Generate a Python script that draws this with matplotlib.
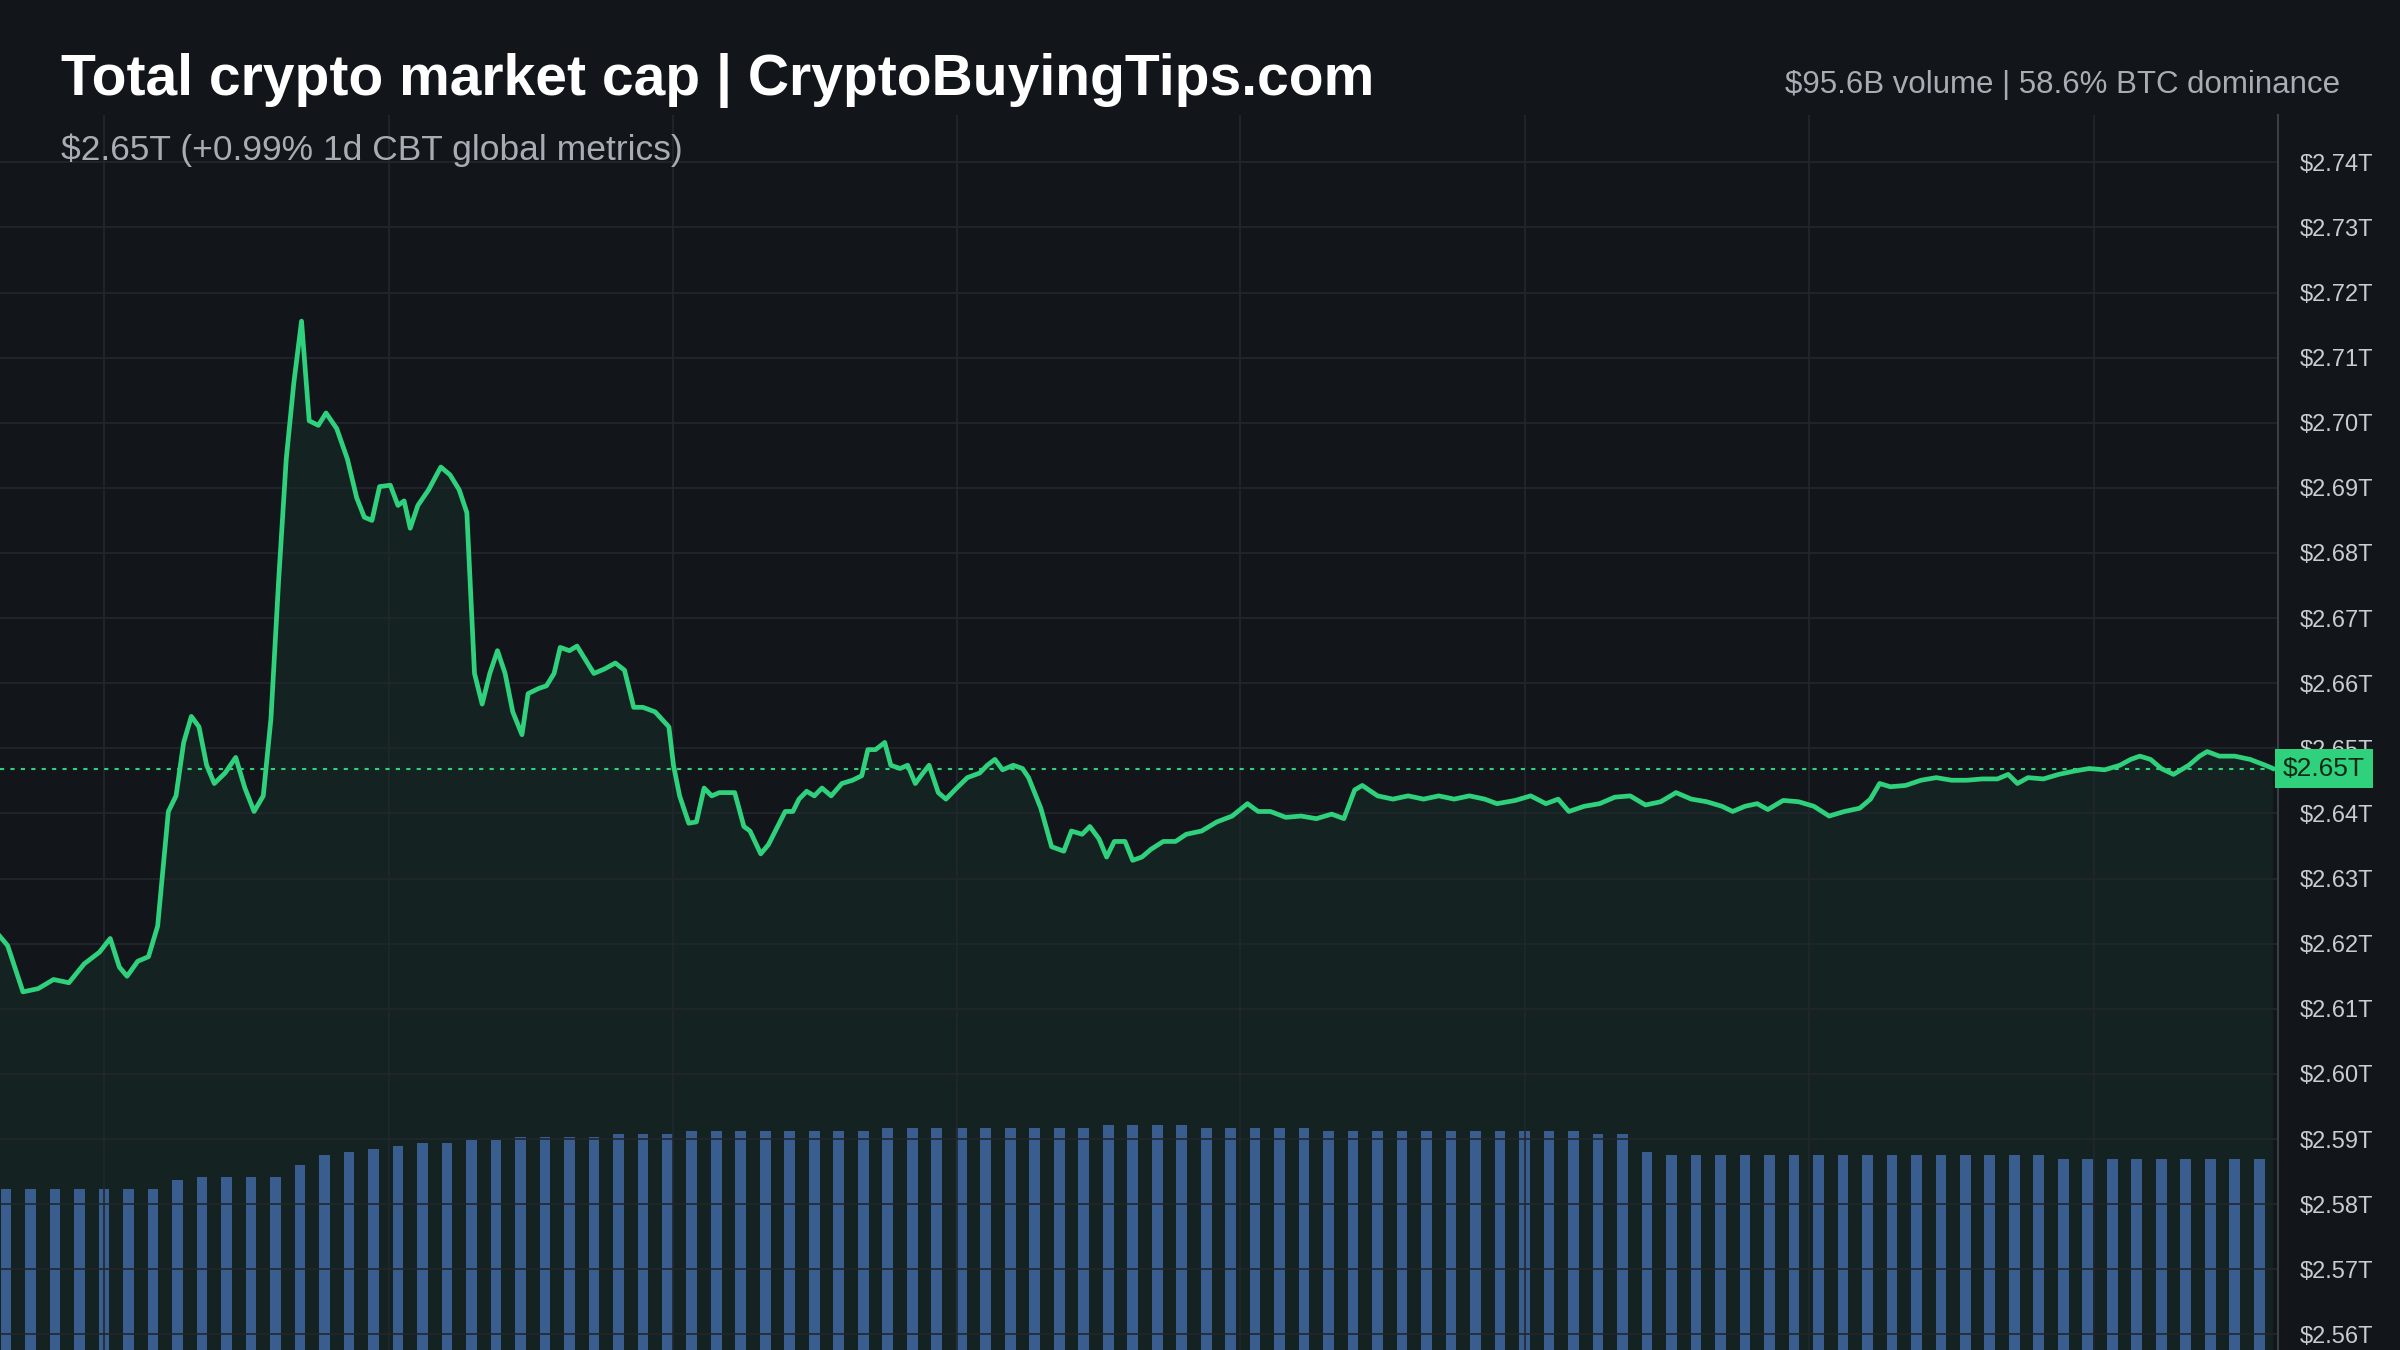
import matplotlib
matplotlib.use("Agg")
import matplotlib.pyplot as plt

plt.rcParams["font.family"] = ["Liberation Sans", "DejaVu Sans"]

BG = "#12161b"
GREEN = "#2fd17c"
GRID = "#22272e"
TXT = "#c9ccd1"

# time position (chart units, 0..1488) and total market cap in trillions USD
t = [0, 5, 15, 25, 35, 45, 55, 65, 72, 78, 83, 90, 97, 103, 110, 115, 120, 125, 130, 135,
     140, 147, 154, 160, 166, 172, 177, 182, 187, 192, 197, 202, 208, 213, 220, 227, 233, 238, 243, 248,
     255, 260, 264, 268, 273, 280, 288, 294, 300, 305, 310, 315, 320, 325, 330, 335, 341, 345, 352, 357,
     362, 366, 372, 377, 383, 388, 395, 402, 408, 414, 420, 428, 437, 440, 444, 450, 455, 460, 465, 470,
     480, 486, 490, 497, 502, 508, 513, 518, 522, 527, 532, 537, 543, 550, 557, 563, 567, 572, 578, 582,
     588, 593, 598, 603, 607, 613, 618, 625, 632, 640, 645, 650, 655, 662, 668, 672, 680, 687, 695, 700,
     707, 712, 718, 723, 728, 735, 740, 746, 752, 760, 768, 775, 785, 795, 805, 815, 822, 830, 840, 850,
     860, 870, 878, 885, 890, 900, 910, 920, 930, 940, 950, 960, 970, 978, 990, 1000, 1010, 1018, 1025, 1035,
     1045, 1055, 1065, 1075, 1085, 1095, 1105, 1115, 1125, 1132, 1140, 1148, 1155, 1165, 1175, 1185, 1195, 1205, 1215, 1222,
     1228, 1235, 1245, 1255, 1265, 1275, 1285, 1295, 1305, 1312, 1318, 1325, 1335, 1345, 1355, 1365, 1375, 1385, 1392, 1398,
     1405, 1412, 1420, 1430, 1437, 1442, 1450, 1460, 1470, 1480, 1485]
price = [2.6211, 2.6197, 2.6126, 2.6131, 2.6145, 2.6140, 2.6169, 2.6187, 2.6208, 2.6164, 2.6150, 2.6173, 2.6180, 2.6227, 2.6403, 2.6427, 2.6509, 2.6549, 2.6533, 2.6474,
         2.6446, 2.6462, 2.6486, 2.6439, 2.6403, 2.6427, 2.6545, 2.6756, 2.6944, 2.7062, 2.7156, 2.7003, 2.6996, 2.7015, 2.6991, 2.6944, 2.6885, 2.6855, 2.6850, 2.6902,
         2.6904, 2.6873, 2.6880, 2.6838, 2.6873, 2.6897, 2.6932, 2.6920, 2.6897, 2.6862, 2.6615, 2.6568, 2.6615, 2.6650, 2.6615, 2.6556, 2.6521, 2.6584, 2.6592, 2.6596,
         2.6615, 2.6655, 2.6650, 2.6657, 2.6634, 2.6615, 2.6622, 2.6631, 2.6620, 2.6563, 2.6563, 2.6556, 2.6533, 2.6474, 2.6427, 2.6385, 2.6387, 2.6439, 2.6427, 2.6432,
         2.6432, 2.6380, 2.6373, 2.6338, 2.6352, 2.6380, 2.6403, 2.6403, 2.6422, 2.6434, 2.6427, 2.6439, 2.6427, 2.6446, 2.6451, 2.6458, 2.6498, 2.6498, 2.6509, 2.6474,
         2.6469, 2.6474, 2.6446, 2.6462, 2.6474, 2.6432, 2.6422, 2.6439, 2.6455, 2.6462, 2.6474, 2.6483, 2.6467, 2.6474, 2.6469, 2.6455, 2.6408, 2.6349, 2.6342, 2.6373,
         2.6368, 2.6380, 2.6361, 2.6333, 2.6357, 2.6357, 2.6328, 2.6333, 2.6345, 2.6357, 2.6357, 2.6368, 2.6373, 2.6387, 2.6396, 2.6415, 2.6403, 2.6403, 2.6394, 2.6396,
         2.6392, 2.6399, 2.6392, 2.6436, 2.6443, 2.6427, 2.6422, 2.6427, 2.6422, 2.6427, 2.6422, 2.6427, 2.6422, 2.6415, 2.6420, 2.6427, 2.6415, 2.6422, 2.6403, 2.6411,
         2.6415, 2.6425, 2.6427, 2.6413, 2.6418, 2.6432, 2.6422, 2.6418, 2.6411, 2.6403, 2.6411, 2.6415, 2.6406, 2.6420, 2.6418, 2.6411, 2.6396, 2.6403, 2.6408, 2.6422,
         2.6446, 2.6441, 2.6443, 2.6451, 2.6455, 2.6451, 2.6451, 2.6453, 2.6453, 2.6460, 2.6446, 2.6455, 2.6453, 2.6460, 2.6465, 2.6469, 2.6467, 2.6474, 2.6483, 2.6488,
         2.6483, 2.6469, 2.6460, 2.6474, 2.6488, 2.6495, 2.6488, 2.6488, 2.6483, 2.6474, 2.6469]

# volume bars, one every 16 chart units (arbitrary units)
vol = [52, 52, 52, 52, 52, 52, 52, 55, 56, 56, 56, 56, 60, 63, 64, 65, 66,
       67, 67, 68, 68, 69, 69, 69, 69,
       70, 70, 70, 71, 71, 71, 71, 71, 71, 71, 71, 72, 72, 72, 72, 72, 72, 72, 72,
       72, 73, 73, 73, 73, 72, 72, 72, 72, 72, 71, 71, 71, 71, 71, 71, 71, 71, 71, 71, 71, 70, 70,
       64, 63, 63, 63, 63, 63, 63, 63, 63, 63, 63, 63, 63, 63, 63, 63, 63, 62, 62, 62, 62, 62, 62, 62, 62, 62]
vol_t = [i * 16 + 4 for i in range(len(vol))]

ticks = [2.56 + 0.01 * i for i in range(19)]
last = price[-1]

fig = plt.figure(figsize=(24, 13.5), dpi=100, facecolor=BG)
ax = fig.add_axes([0, 0, 0.949, 0.915], facecolor=BG)
axv = ax.twinx()

# volume on its own hidden axis, behind the price
axv.bar(vol_t, vol, width=7, color="#3a5590", zorder=1)
axv.set_ylim(0, 400)
axv.set_yticks([])
for s in axv.spines.values():
    s.set_visible(False)
ax.set_zorder(axv.get_zorder() + 1)
ax.patch.set_visible(False)
axv.set_facecolor(BG)
axv.patch.set_visible(True)

ax.fill_between(t, price, 2.5, color=GREEN, alpha=0.07, lw=0)
ax.plot(t, price, color=GREEN, lw=3.4, solid_joinstyle="round")
ax.axhline(last, color=GREEN, lw=1.5, ls=(0, (2, 3)))

ax.set_xlim(0, 1488)
ax.set_ylim(2.5576, 2.7473)
ax.set_xticks([68, 254, 440, 625, 810, 996, 1182, 1368])
ax.set_xticklabels([])
ax.tick_params(axis="x", length=0)
ax.yaxis.tick_right()
ax.set_yticks(ticks)
ax.set_yticklabels([f"${v:.2f}T" for v in ticks])
ax.tick_params(axis="y", length=0, pad=16, labelsize=17, labelcolor=TXT)
ax.grid(True, color=GRID, lw=1.2)
for side in ["top", "left", "bottom"]:
    ax.spines[side].set_visible(False)
ax.spines["right"].set_color("#3a3f47")
ax.spines["right"].set_linewidth(1.5)

ax.annotate(f"${last:.2f}T", xy=(1.0, last), xycoords=("axes fraction", "data"),
            xytext=(4, 0), textcoords="offset points", ha="left", va="center",
            fontsize=19, color="#0d2a18",
            bbox=dict(boxstyle="square,pad=0.3", fc=GREEN, ec="none"))

fig.text(0.0255, 0.94, "Total crypto market cap | CryptoBuyingTips.com", fontsize=41,
         fontweight="bold", color="white", va="center")
fig.text(0.0255, 0.889, "$2.65T (+0.99% 1d CBT global metrics)", fontsize=25.5,
         color="#a9adb3", va="center")
fig.text(0.975, 0.937, "$95.6B volume | 58.6% BTC dominance", fontsize=22.5,
         color="#a9adb3", va="center", ha="right")

fig.savefig("out.png", dpi=100, facecolor=BG)
